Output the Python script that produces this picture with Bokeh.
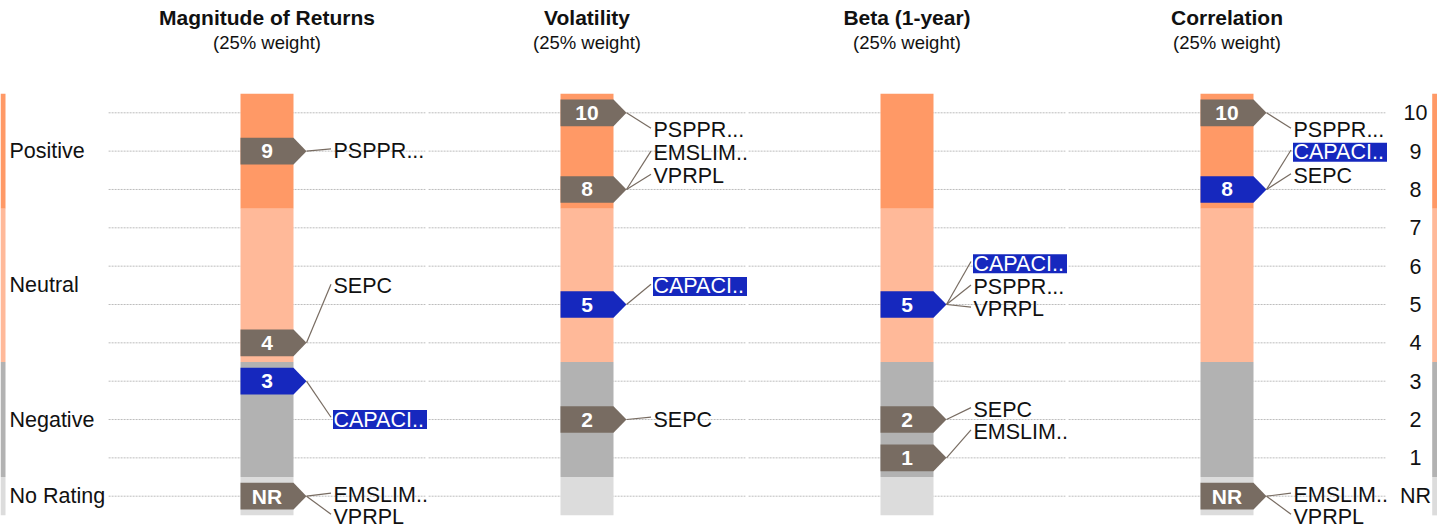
from bokeh.plotting import figure
from bokeh.models import Range1d
from bokeh.embed import file_html
from bokeh.resources import INLINE
from bokeh.core.properties import value

# ---------------- data ----------------
metrics = ["Magnitude of Returns", "Volatility", "Beta (1-year)", "Correlation"]
weights = ["(25% weight)", "(25% weight)", "(25% weight)", "(25% weight)"]

funds = ["PSPPR...", "EMSLIM..", "VPRPL", "SEPC", "CAPACI.."]
highlight = "CAPACI.."
# score per metric (0 = NR)
scores = {
    "PSPPR...": [9, 10, 5, 10],
    "EMSLIM..": [0, 8, 1, 0],
    "VPRPL":    [0, 8, 5, 0],
    "SEPC":     [4, 2, 2, 8],
    "CAPACI..": [3, 5, 5, 8],
}
# label placement (rating units) as laid out in the picture
label_pos = {
    "PSPPR...": [9.0, 9.54, 5.45, 9.54],
    "EMSLIM..": [0.02, 8.94, 1.67, 0.02],
    "VPRPL":    [-0.53, 8.34, 4.87, -0.53],
    "SEPC":     [5.47, 2.0, 2.25, 8.35],
    "CAPACI..": [2.0, 5.47, 6.06, 8.97],
}

band_names = ["Positive", "Neutral", "Negative", "No Rating"]
band_low = [7.5, 3.5, 0.5, -0.5]
band_high = [10.5, 7.5, 3.5, 0.5]
band_colors = ["#FF9966", "#FFB999", "#B2B2B2", "#DCDCDC"]

tick_values = [0, 1, 2, 3, 4, 5, 6, 7, 8, 9, 10]
tick_labels = ["NR", "1", "2", "3", "4", "5", "6", "7", "8", "9", "10"]

# ---------------- styles ----------------
FONT = value("Liberation Sans")
MARK_GRAY = "#786C62"
BLUE = "#1628BE"
LBL = "21.5px"

W, H = 1437, 529
PXX = 320.0
PXY = 38.34
X0 = -266.5 / PXX
X1 = X0 + W / PXX
Y1 = 495.7 / PXY
Y0 = Y1 - H / PXY

p = figure(width=W, height=H, x_range=Range1d(X0, X1), y_range=Range1d(Y0, Y1),
           output_backend="svg", toolbar_location=None, min_border=0,
           x_axis_location=None, y_axis_location=None)
p.grid.visible = False
p.outline_line_color = None
p.background_fill_color = "white"
p.border_fill_color = "white"

ncol = len(metrics)

# gridlines (segmented per column)
gx0, gx1, gy = [], [], []
for i in range(ncol):
    for t in tick_values:
        gx0.append(i - 0.5 + 0.005)
        gx1.append(i + 0.5 - 0.005)
        gy.append(t)
p.segment(x0=gx0, y0=gy, x1=gx1, y1=gy, line_color="#BDBDBD", line_width=1, line_dash="2 1")

# bars
BW = 26.5 / PXX
ql, qr, qb, qt, qc = [], [], [], [], []
for i in range(ncol):
    for lo, hi, c in zip(band_low, band_high, band_colors):
        ql.append(i - BW); qr.append(i + BW); qb.append(lo); qt.append(hi); qc.append(c)
# side stripes
for lo, hi, c in zip(band_low, band_high, band_colors):
    ql.append(X0); qr.append(X0 + 5 / PXX); qb.append(lo); qt.append(hi); qc.append(c)
    ql.append(X1 - 5.3 / PXX); qr.append(X1); qb.append(lo); qt.append(hi); qc.append(c)
p.quad(left=ql, right=qr, bottom=qb, top=qt, fill_color=qc, line_color=None)

# band labels (left)
p.text(x=[X0 + 9 / PXX] * 4, y=[(a + b) / 2 for a, b in zip(band_low, band_high)], text=band_names,
       text_font=FONT, text_font_size=LBL, text_color="#111111",
       text_align="left", text_baseline="middle")

# tick labels (right)
p.text(x=[X0 + 1415 / PXX] * len(tick_values), y=tick_values, text=tick_labels,
       text_font=FONT, text_font_size=LBL, text_color="#111111",
       text_align="center", text_baseline="middle")

# titles
p.text(x=list(range(ncol)), y=[Y1 - 17 / PXY] * ncol, text=metrics, text_font=FONT,
       text_font_size="21px", text_font_style="bold", text_color="#111111",
       text_align="center", text_baseline="middle")
p.text(x=list(range(ncol)), y=[Y1 - 42 / PXY] * ncol, text=weights, text_font=FONT,
       text_font_size="18.5px", text_color="#111111",
       text_align="center", text_baseline="middle")

# markers
TIP = 13 / PXX
HH = 13.35 / PXY
mxs, mys, mcol, tx, ty, tt = [], [], [], [], [], []
for i in range(ncol):
    uniq = sorted(set(scores[f][i] for f in funds))
    for s in uniq:
        mxs.append([i - BW, i + BW, i + BW + TIP, i + BW, i - BW])
        mys.append([s + HH, s + HH, s, s - HH, s - HH])
        mcol.append(BLUE if scores[highlight][i] == s else MARK_GRAY)
        tx.append(i); ty.append(s); tt.append(tick_labels[tick_values.index(s)])
p.patches(xs=mxs, ys=mys, fill_color=mcol, line_color=None)
p.text(x=tx, y=ty, text=tt, text_font=FONT, text_font_size="21px", text_font_style="bold",
       text_color="white", text_align="center", text_baseline="middle")

# leader lines and labels
LAB = 66.5 / PXX
LEND = 64.0 / PXX
lx0, ly0, lx1, ly1 = [], [], [], []
nx, ny, nt = [], [], []
hx, hy, ht = [], [], []
for f in funds:
    for i in range(ncol):
        s = scores[f][i]
        ly = label_pos[f][i]
        lx0.append(i + BW + TIP); ly0.append(s)
        lx1.append(i + LEND); ly1.append(ly + 0.06)
        if f == highlight:
            hx.append(i + LAB); hy.append(ly); ht.append(f)
        else:
            nx.append(i + LAB); ny.append(ly); nt.append(f)
p.segment(x0=lx0, y0=ly0, x1=lx1, y1=ly1, line_color=MARK_GRAY, line_width=1.2)
p.quad(left=[x - 0.5 / PXX for x in hx], right=[x + 93.5 / PXX for x in hx],
       bottom=[y - 9.5 / PXY for y in hy], top=[y + 9.5 / PXY for y in hy],
       fill_color=BLUE, line_color=None)
p.text(x=nx, y=ny, text=nt, text_font=FONT, text_font_size=LBL, text_color="#111111",
       text_align="left", text_baseline="middle")
p.text(x=hx, y=hy, text=ht, text_font=FONT, text_font_size=LBL, text_color="white",
       text_align="left", text_baseline="middle")

open("out.html", "w").write(file_html(p, INLINE))
